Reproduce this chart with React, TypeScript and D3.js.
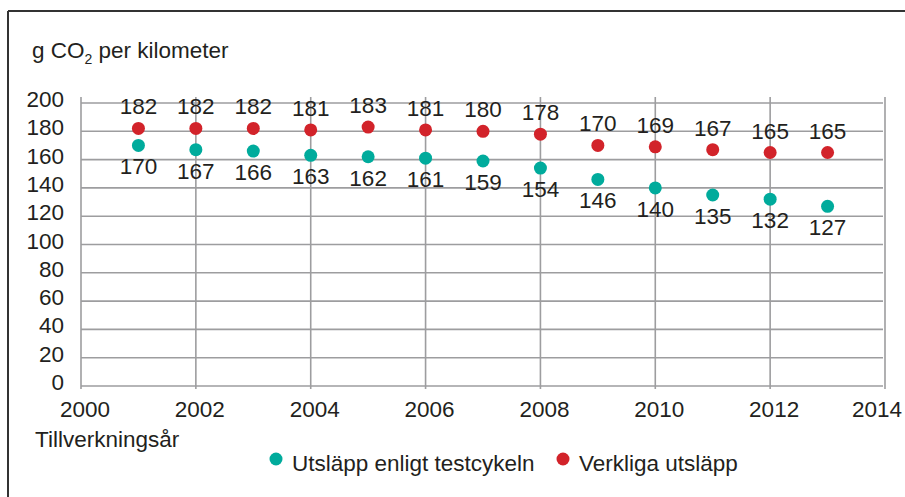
import * as d3 from "d3";
import React, { useRef, useEffect } from "react";

// chart data
const years = [2001, 2002, 2003, 2004, 2005, 2006, 2007, 2008, 2009, 2010, 2011, 2012, 2013];
const testValues = [170, 167, 166, 163, 162, 161, 159, 154, 146, 140, 135, 132, 127];
const realValues = [182, 182, 182, 181, 183, 181, 180, 178, 170, 169, 167, 165, 165];
const yTicks = [0, 20, 40, 60, 80, 100, 120, 140, 160, 180, 200];
const xTicks = [2000, 2002, 2004, 2006, 2008, 2010, 2012, 2014];
const seriesNames = ["Utsläpp enligt testcykeln", "Verkliga utsläpp"];
const seriesColors = ["#00ab9c", "#d2232a"];

const W = 905;
const H = 497;
const margin = { top: 103, right: 20, bottom: 111, left: 81 };
const font = "'Liberation Sans', Arial, sans-serif";
const fs = 22.5;
const textColor = "#231f20";
const gridColor = "#9d9d9f";

function App() {
  const ref = useRef<SVGSVGElement>(null);

  useEffect(() => {
    const svg = d3.select(ref.current);
    svg.selectAll("*").remove();

    const x = d3.scaleLinear().domain([2000, 2014]).range([margin.left, 885]);
    const y = d3.scaleLinear().domain([0, 200]).range([386, margin.top]);

    // frame (top and left edges only visible)
    svg.append("line").attr("x1", 8).attr("x2", W).attr("y1", 11).attr("y2", 11)
      .attr("stroke", "#333").attr("stroke-width", 2);
    svg.append("line").attr("x1", 8).attr("x2", 8).attr("y1", 11).attr("y2", H)
      .attr("stroke", "#333").attr("stroke-width", 2);

    const g = svg.append("g");

    // horizontal grid
    g.selectAll("line.h").data(yTicks).enter().append("line")
      .attr("x1", x(2000)).attr("x2", 883)
      .attr("y1", (d) => y(d)).attr("y2", (d) => y(d))
      .attr("stroke", gridColor).attr("stroke-width", 1.6);

    // vertical grid incl. axis
    g.selectAll("line.v").data(xTicks).enter().append("line")
      .attr("x1", (d) => x(d)).attr("x2", (d) => x(d))
      .attr("y1", y(200) - 6).attr("y2", y(0) + 3)
      .attr("stroke", gridColor).attr("stroke-width", 1.6);

    // y tick labels
    g.selectAll("text.yt").data(yTicks).enter().append("text")
      .attr("x", 64).attr("y", (d) => y(d) + 4)
      .attr("text-anchor", "end")
      .attr("font-family", font).attr("font-size", fs).attr("fill", textColor)
      .text((d) => d);

    // x tick labels (last one pulled in to stay inside the frame)
    g.selectAll("text.xt").data(xTicks).enter().append("text")
      .attr("x", (d) => (d === 2014 ? 902 : x(d) + 4)).attr("y", 417)
      .attr("text-anchor", (d) => (d === 2014 ? "end" : "middle"))
      .attr("font-family", font).attr("font-size", fs).attr("fill", textColor)
      .text((d) => d);

    // series
    const series = [testValues, realValues];
    series.forEach((vals, i) => {
      const pts = years.map((yr, j) => ({ yr, v: vals[j] }));
      g.selectAll("circle.s" + i).data(pts).enter().append("circle")
        .attr("cx", (d) => x(d.yr)).attr("cy", (d) => y(d.v))
        .attr("r", 6.5).attr("fill", seriesColors[i]);
      g.selectAll("text.l" + i).data(pts).enter().append("text")
        .attr("x", (d) => x(d.yr))
        .attr("y", (d) => (i === 0 ? y(d.v) + 29 : y(d.v) - 14))
        .attr("text-anchor", "middle")
        .attr("font-family", font).attr("font-size", fs).attr("fill", textColor)
        .text((d) => d.v);
    });

    // title
    const title = svg.append("text").attr("x", 32).attr("y", 58)
      .attr("font-family", font).attr("font-size", fs).attr("fill", textColor);
    title.append("tspan").text("g CO");
    title.append("tspan").attr("font-size", 14).attr("dy", 6).text("2");
    title.append("tspan").attr("dy", -6).text(" per kilometer");

    // x axis title
    svg.append("text").attr("x", 35).attr("y", 447)
      .attr("font-family", font).attr("font-size", fs).attr("fill", textColor)
      .text("Tillverkningsår");

    // legend
    const legendX = [276, 563];
    seriesNames.forEach((name, i) => {
      svg.append("circle").attr("cx", legendX[i]).attr("cy", 459)
        .attr("r", 6.5).attr("fill", seriesColors[i]);
      svg.append("text").attr("x", legendX[i] + 16).attr("y", 471)
        .attr("font-family", font).attr("font-size", fs).attr("fill", textColor)
        .text(name);
    });
  }, []);

  return (
    <svg
      ref={ref}
      width={W}
      height={H}
      style={{ position: "absolute", left: 0, top: 0, background: "#fff" }}
    ></svg>
  );
}

export default App;
